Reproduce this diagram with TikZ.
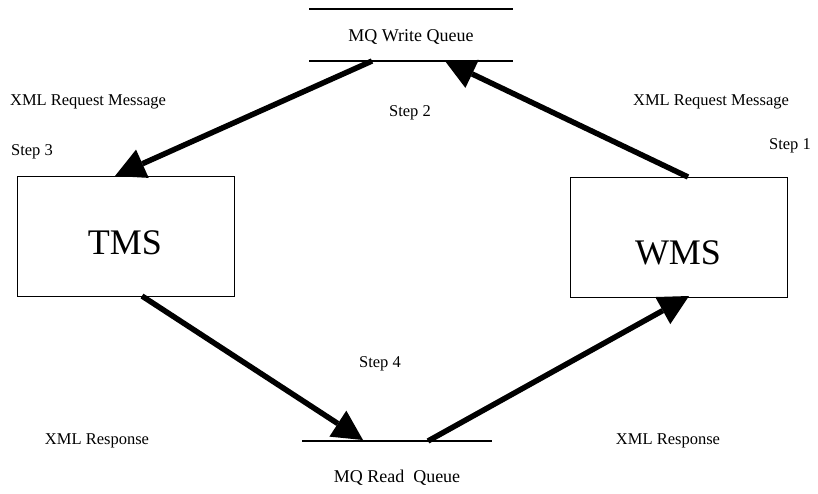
\documentclass[tikz,border=0pt]{standalone}
\usepackage{fontspec}
\setmainfont{Liberation Serif}
\usetikzlibrary{arrows.meta}
\tikzset{
  arr/.style={line width=5.5pt, -{Triangle[length=30pt,width=31pt,line width=0pt]}},
  sysbox/.style={draw, line width=1.4pt, fill=white, minimum width=217pt, minimum height=120pt, inner sep=0pt},
  lbl/.style={font=\fontsize{16.5}{18}\selectfont, inner sep=0pt},
  qlbl/.style={font=\fontsize{18}{20}\selectfont, inner sep=0pt},
  qline/.style={line width=1.4pt}
}
\begin{document}
\begin{tikzpicture}[x=1pt,y=-1pt]
\useasboundingbox (0,0) rectangle (818,493);
% anchor coordinates
\coordinate (wmstop) at (688,177);
\coordinate (wqbot) at (372,61);
\coordinate (tmsbot) at (142,296);
\coordinate (rqtop) at (428,441);
\coordinate (tip1) at (445,61);
\coordinate (tip2) at (115,176);
\coordinate (tip3) at (363,440);
\coordinate (tip4) at (689,296);
% write queue
\draw[qline] (309,9) -- (513,9);
\draw[qline] (309,61) -- (513,61);
\node[qlbl] (wq) at (411,37) {MQ Write Queue};
% read queue
\draw[qline] (302,441) -- (492,441);
\node[qlbl] (rq) at (397,478) {MQ Read\ \ Queue};
% systems
\node[sysbox, anchor=north west] (tms) at (17,176) {};
\node[sysbox, anchor=north west] (wms) at (570,177) {};
\node[font=\fontsize{36}{40}\selectfont, inner sep=0pt] (tmst) at (125,243) {TMS};
\node[font=\fontsize{36}{40}\selectfont, inner sep=0pt] (wmst) at (678,253) {WMS};
% arrows
\draw[arr] (wmstop) -- (tip1);
\draw[arr] (wqbot) -- (tip2);
\draw[arr] (tmsbot) -- (tip3);
\draw[arr] (rqtop) -- (tip4);
% labels
\node[lbl] (l1) at (88,102) {XML Request Message};
\node[lbl] (l2) at (711,102) {XML Request Message};
\node[lbl] (s2) at (410,113) {Step 2};
\node[lbl] (s1) at (790,146) {Step 1};
\node[lbl] (s3) at (32,152) {Step 3};
\node[lbl] (s4) at (380,364) {Step 4};
\node[lbl] (r1) at (97,441) {XML Response};
\node[lbl] (r2) at (668,441) {XML Response};
\end{tikzpicture}
\end{document}
